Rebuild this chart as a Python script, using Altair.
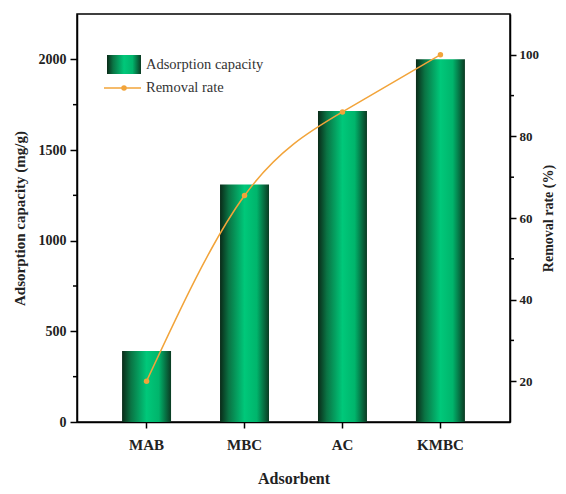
import altair as alt
import pandas as pd

adsorbents = ["MAB", "MBC", "AC", "KMBC"]
capacity = [392, 1310, 1715, 2000]
removal = [20.0, 65.5, 86.0, 100.0]
cap_ticks = [0, 500, 1000, 1500, 2000]
cap_minor = [250, 750, 1250, 1750]
rate_ticks = [20, 40, 60, 80, 100]
rate_minor = [30, 50, 70, 90]
legend_labels = ["Adsorption capacity", "Removal rate"]

FONT = "Liberation Serif"
ORANGE = "#F2A43A"
INK = "#222222"
W, H = 433, 408

df = pd.DataFrame({"Adsorbent": adsorbents, "capacity": capacity, "removal": removal})

grad = alt.Gradient(
    gradient="linear",
    x1=0, x2=1, y1=0, y2=0,
    stops=[
        alt.GradientStop(color="#0a2a18", offset=0),
        alt.GradientStop(color="#0a7444", offset=0.18),
        alt.GradientStop(color="#00c87a", offset=0.5),
        alt.GradientStop(color="#00b56c", offset=0.75),
        alt.GradientStop(color="#0b3a22", offset=1),
    ],
)

xenc = alt.X(
    "Adsorbent:N",
    sort=adsorbents,
    scale=alt.Scale(paddingInner=0.5, paddingOuter=0.46),
    axis=alt.Axis(
        title="Adsorbent", labelAngle=0, labelFont=FONT, labelFontSize=15,
        labelFontWeight="bold", labelColor=INK, titleFont=FONT, titleFontSize=16,
        titleFontWeight="bold", titleColor=INK, tickSize=6, tickColor="black",
        tickWidth=1.5, domainColor="black", domainWidth=1.5, labelPadding=9,
        titlePadding=18,
    ),
)

cap_scale = alt.Scale(domain=[0, 2250], nice=False, zero=True)
rate_scale = alt.Scale(domain=[10, 110], nice=False, zero=False)

cap_axis = alt.Axis(
    title="Adsorption capacity (mg/g)", values=cap_ticks, grid=False, format="d",
    labelFont=FONT, labelFontSize=14, labelFontWeight="bold", labelColor=INK,
    titleFont=FONT, titleFontSize=15, titleFontWeight="bold", titleColor=INK,
    tickSize=7, tickColor="black", tickWidth=1.5, domainColor="black",
    domainWidth=1.5, labelPadding=4, titlePadding=11,
)
rate_axis = alt.Axis(
    orient="right", title="Removal rate (%)", values=rate_ticks, grid=False, format="d",
    labelFont=FONT, labelFontSize=13, labelFontWeight="bold", labelColor=INK,
    titleFont=FONT, titleFontSize=14, titleFontWeight="bold", titleColor=INK,
    titleAngle=270, titleBaseline="top", tickSize=6, tickColor="black", tickWidth=1.5,
    domainColor="black", domainWidth=1.5, labelPadding=3, titlePadding=3,
)

bars = alt.Chart(df).mark_bar(color=grad).encode(
    x=xenc,
    y=alt.Y("capacity:Q", scale=cap_scale, axis=cap_axis, title="Adsorption capacity (mg/g)"),
)

minor_left = alt.Chart(pd.DataFrame({"capacity": cap_minor})).mark_rule(
    color="black", strokeWidth=1.5
).encode(
    y=alt.Y("capacity:Q", scale=cap_scale, axis=cap_axis, title="Adsorption capacity (mg/g)"),
    x=alt.value(-4), x2=alt.value(0),
)

leg_rect = alt.Chart(pd.DataFrame({"a": [0]})).mark_rect(color=grad).encode(
    x=alt.value(30), x2=alt.value(64), y=alt.value(41), y2=alt.value(60)
)
leg_line = alt.Chart(pd.DataFrame({"a": [0]})).mark_rule(
    color=ORANGE, strokeWidth=1.5
).encode(x=alt.value(27), x2=alt.value(64), y=alt.value(74))
leg_dot = alt.Chart(pd.DataFrame({"a": [0]})).mark_point(
    filled=True, size=30, color=ORANGE, opacity=1
).encode(x=alt.value(47), y=alt.value(74))
leg_text = alt.Chart(
    pd.DataFrame({"label": legend_labels, "yy": [51, 74]})
).mark_text(
    align="left", baseline="middle", font=FONT, fontSize=14.5, color="#333333"
).encode(x=alt.value(69), y=alt.Y("yy:Q", scale=None), text="label:N")

line = alt.Chart(df).mark_line(
    color=ORANGE, strokeWidth=1.5, interpolate="natural"
).encode(
    x=xenc,
    y=alt.Y("removal:Q", scale=rate_scale, axis=rate_axis, title="Removal rate (%)"),
)
pts = alt.Chart(df).mark_point(filled=True, size=30, color=ORANGE, opacity=1).encode(
    x=xenc,
    y=alt.Y("removal:Q", scale=rate_scale, axis=rate_axis, title="Removal rate (%)"),
)
minor_right = alt.Chart(pd.DataFrame({"removal": rate_minor})).mark_rule(
    color="black", strokeWidth=1.5
).encode(
    y=alt.Y("removal:Q", scale=rate_scale, axis=rate_axis, title="Removal rate (%)"),
    x=alt.value(W), x2=alt.value(W + 4),
)

left = alt.layer(bars, minor_left, leg_rect, leg_line, leg_dot, leg_text)
right = alt.layer(line, pts, minor_right)

chart = (
    alt.layer(left, right)
    .resolve_scale(y="independent")
    .properties(
        width=W, height=H, background="white",
        autosize=alt.AutoSizeParams(type="none"),
        view=alt.ViewBackground(stroke="black", strokeWidth=1.5),
        padding={"left": 69, "top": 6, "right": 48, "bottom": 63},
    )
)

chart.save("out.html", embed_options={"renderer": "svg", "actions": False})
